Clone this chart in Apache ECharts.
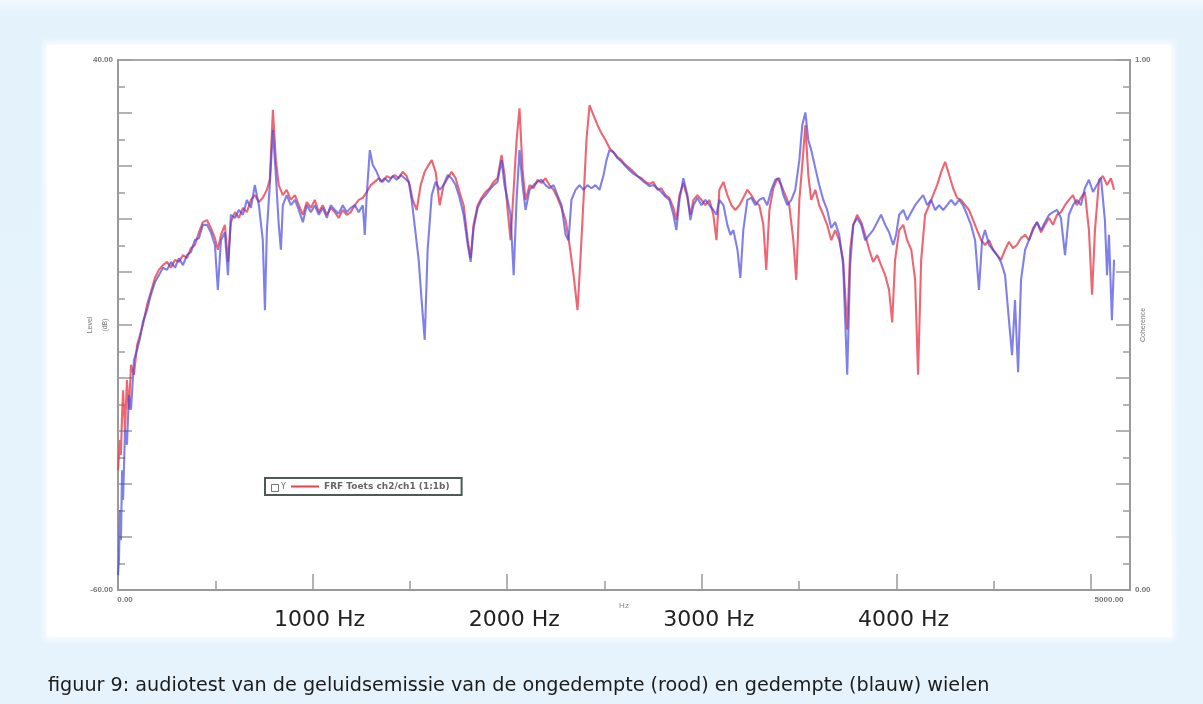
<!DOCTYPE html>
<html><head><meta charset="utf-8">
<script src="https://cdn.jsdelivr.net/npm/echarts@6/dist/echarts.min.js"></script>
<style>
html,body{margin:0;padding:0;background:#e5f2fc;}
#wrap{position:relative;width:1203px;height:704px;background:linear-gradient(#f3f9fe 0px,#e4f2fc 14px,#e6f3fc 100%);overflow:hidden;}
#panel{position:absolute;left:47px;top:45px;width:1124px;height:592px;background:#fff;box-shadow:0 0 6px 3px #fbfdff;}
#chart{position:absolute;left:0;top:0;width:1203px;height:704px;}
</style></head>
<body><div id="wrap"><div id="panel"></div><div id="chart"></div></div>
<script>
// ongedempt (rood)
const redHz=[0,10,15,20,26,36,46,56,67,82,98,113,128,149,169,190,210,231,252,272,293,313,334,354,375,395,416,436,457,477,498,513,529,549,565,580,601,621,642,662,683,703,724,744,765,780,796,811,826,847,867,888,909,929,950,970,991,1011,1032,1052,1073,1093,1114,1134,1155,1175,1196,1217,1237,1258,1278,1299,1319,1340,1360,1381,1401,1422,1442,1463,1483,1499,1514,1535,1555,1576,1596,1612,1632,1653,1673,1694,1714,1735,1755,1776,1797,1812,1827,1848,1868,1889,1909,1930,1950,1971,1986,2002,2017,2033,2048,2063,2079,2094,2115,2135,2156,2176,2197,2217,2238,2258,2279,2300,2320,2341,2361,2376,2392,2407,2423,2443,2464,2484,2505,2525,2546,2566,2587,2607,2628,2649,2669,2690,2710,2731,2751,2772,2792,2813,2833,2854,2869,2885,2905,2926,2941,2957,2977,2998,3018,3039,3059,3075,3090,3111,3131,3152,3172,3193,3213,3234,3254,3275,3295,3316,3331,3347,3367,3388,3408,3429,3449,3470,3485,3501,3516,3532,3547,3562,3583,3603,3624,3644,3665,3685,3706,3726,3747,3762,3778,3798,3819,3839,3860,3880,3901,3921,3942,3962,3978,3993,4014,4035,4055,4076,4096,4111,4127,4147,4168,4188,4209,4230,4250,4271,4291,4312,4332,4353,4373,4394,4414,4435,4455,4476,4496,4517,4537,4558,4578,4599,4619,4640,4661,4681,4702,4722,4743,4763,4784,4804,4825,4845,4866,4886,4907,4927,4948,4968,4989,5005,5020,5041,5061,5082,5102,5118];
const redDb=[-37.4,-31.7,-34.5,-27.9,-22.3,-29.8,-20.4,-26.0,-17.5,-19.4,-13.8,-11.9,-10.0,-6.2,-3.8,-1.1,0.4,1.3,1.9,0.8,2.3,1.9,3.2,2.6,4.5,5.1,7.5,9.4,9.8,8.3,6.4,4.2,7.0,8.9,1.9,9.4,11.3,10.2,12.1,11.3,13.6,14.5,13.2,14.0,15.5,17.4,30.6,21.1,16.4,14.5,15.5,13.6,14.5,12.6,10.8,13.2,12.1,13.6,11.3,12.6,10.8,12.1,11.3,10.2,11.7,10.8,11.3,12.6,13.6,14.0,15.1,16.4,17.0,17.7,17.0,18.1,17.7,18.3,17.7,18.9,18.1,16.4,13.6,11.7,16.4,18.9,20.2,21.1,18.9,12.6,16.4,17.7,18.9,17.7,15.1,12.6,6.0,2.6,8.9,12.6,14.0,15.1,15.8,17.0,17.7,22.1,18.3,11.7,6.0,15.5,24.9,30.9,19.2,13.6,16.4,15.8,17.4,16.8,17.7,16.4,15.5,14.0,12.1,9.8,5.1,-0.6,-7.2,2.3,13.6,24.9,31.5,29.6,27.7,26.2,24.9,23.4,22.6,21.7,21.1,20.2,19.6,18.9,18.1,17.7,17.0,16.6,17.0,15.5,15.8,14.5,14.0,12.1,9.8,14.5,16.8,14.0,10.8,13.6,14.5,13.6,12.6,13.6,10.8,6.0,15.5,17.0,14.5,12.6,11.7,12.6,14.0,15.5,14.5,13.2,12.6,8.9,0.4,11.7,15.8,17.7,16.4,14.5,12.6,6.0,-1.5,13.6,20.2,27.7,18.3,13.6,15.5,12.6,10.8,8.9,6.0,7.9,6.0,2.3,-10.9,4.2,8.9,10.8,9.4,7.0,4.2,1.9,3.2,1.3,-0.6,-3.4,-9.5,2.3,7.9,8.9,6.0,4.2,-1.5,-19.4,2.3,10.8,12.6,14.5,16.4,18.9,20.8,18.3,15.8,14.0,13.6,12.6,11.7,9.8,7.9,6.0,5.1,6.0,4.2,3.2,2.3,4.2,5.7,4.5,5.1,6.4,7.0,6.0,8.3,9.4,7.5,8.9,10.2,8.9,10.8,11.3,12.6,13.6,14.5,12.6,14.0,15.1,7.9,-4.3,7.9,17.4,18.1,16.4,17.7,15.5];
// gedempt (blauw)
const blueHz=[0,5,10,15,21,26,36,46,56,67,82,98,113,128,149,169,190,210,231,252,272,293,313,334,354,375,395,416,436,457,477,498,513,529,549,565,580,601,621,642,662,683,703,724,744,755,765,780,796,811,826,837,847,867,888,909,929,950,970,991,1011,1032,1052,1073,1093,1114,1134,1155,1175,1196,1217,1237,1258,1268,1278,1294,1309,1329,1350,1370,1391,1411,1432,1453,1473,1494,1509,1524,1545,1560,1576,1591,1612,1632,1653,1673,1694,1714,1735,1755,1776,1797,1812,1827,1848,1868,1889,1909,1930,1950,1971,1986,2002,2017,2033,2048,2063,2079,2094,2115,2135,2156,2176,2197,2217,2238,2258,2279,2300,2315,2330,2351,2371,2392,2412,2433,2453,2474,2495,2510,2525,2546,2566,2587,2607,2628,2649,2669,2690,2710,2731,2751,2772,2792,2813,2833,2854,2869,2885,2905,2926,2941,2957,2977,2998,3018,3039,3059,3075,3090,3111,3131,3147,3162,3183,3198,3213,3234,3254,3275,3295,3316,3336,3357,3377,3398,3419,3439,3460,3480,3501,3516,3532,3547,3562,3583,3603,3624,3644,3665,3685,3706,3726,3747,3762,3778,3798,3819,3839,3860,3880,3901,3921,3942,3962,3983,3998,4014,4035,4055,4076,4096,4117,4137,4158,4178,4199,4219,4240,4260,4281,4301,4322,4342,4363,4383,4404,4424,4440,4455,4476,4496,4517,4537,4558,4578,4594,4609,4625,4640,4661,4681,4702,4722,4743,4763,4784,4804,4825,4845,4866,4886,4907,4927,4948,4968,4989,5010,5030,5051,5071,5082,5092,5107,5118];
const blueDb=[-57.2,-54.3,-44.9,-50.6,-37.4,-43.0,-29.8,-32.6,-23.2,-26.0,-16.6,-14.7,-12.5,-9.4,-7.2,-4.3,-1.9,-0.6,0.8,0.4,1.9,0.8,2.6,1.3,3.2,3.8,6.0,6.4,8.9,8.9,7.5,5.1,-3.4,6.0,7.5,-0.6,10.8,10.2,11.7,10.8,13.6,12.1,16.4,12.6,6.0,-7.2,7.9,16.4,26.8,18.3,8.9,4.2,12.6,14.5,12.6,13.6,11.7,9.4,12.6,11.3,12.6,10.8,12.1,10.2,12.6,11.7,11.0,12.6,11.3,12.1,12.6,11.3,12.6,7.0,14.5,23.0,20.2,18.9,17.0,17.7,17.0,18.1,17.4,18.3,17.7,17.0,13.6,8.9,2.3,-5.3,-12.8,4.2,14.5,17.0,15.5,16.4,18.3,17.7,16.4,14.0,10.8,5.1,1.9,8.3,12.1,13.6,14.5,15.5,16.4,17.0,21.1,16.4,13.6,10.8,-0.6,13.6,23.0,16.4,11.7,15.5,16.4,17.0,17.4,16.4,15.8,16.4,14.5,12.6,7.0,6.0,13.6,15.5,16.4,15.5,16.4,15.8,16.4,15.5,18.3,21.1,23.0,22.6,21.5,20.8,20.0,19.2,18.5,18.1,17.4,16.8,16.2,16.4,15.8,15.1,14.2,13.6,10.8,7.9,13.6,17.7,14.5,9.8,12.6,14.0,12.6,13.6,12.6,11.7,10.8,13.6,12.6,8.9,7.0,7.9,4.2,-1.1,7.9,13.6,14.0,12.6,13.6,14.0,12.6,15.5,17.4,17.7,14.5,12.6,13.6,15.5,21.1,27.7,30.1,24.9,23.0,19.6,16.4,13.6,11.7,8.3,9.4,7.0,1.3,-19.4,1.3,8.9,10.2,8.9,6.0,7.0,7.9,9.4,10.8,8.9,7.5,5.1,7.0,10.8,11.7,9.8,11.3,12.6,13.6,14.5,12.6,13.6,11.7,12.6,11.7,12.6,13.6,12.6,13.6,12.6,10.8,8.9,6.0,-3.4,6.0,7.9,5.1,4.2,3.2,1.9,-0.6,-9.1,-15.7,-5.3,-18.9,-1.5,4.2,6.0,7.9,9.4,7.9,9.4,10.8,11.3,11.7,10.2,3.2,10.8,12.6,13.6,12.6,15.8,17.4,15.1,16.4,17.7,9.8,-0.6,7.0,-9.1,2.3];
// tick labels
const xLabelValues=[0,1000,2000,3000,4000,5000];
const xLabelTexts=['0.00','1000 Hz','2000 Hz','3000 Hz','4000 Hz','5000.00'];
const yLeftLabelValues=[-60,40];
const yLeftLabelTexts=['-60.00','40.00'];
const yRightLabelValues=[0,1];
const yRightLabelTexts=['0.00','1.00'];
const caption='figuur 9: audiotest van de geluidsemissie van de ongedempte (rood) en gedempte (blauw) wielen';
const redName='FRF Toets ch2/ch1 (1:1b)';
const blueName='FRF Toets gedempt';

function pairs(xs,ys){return xs.map((x,i)=>[x,ys[i]]);}
function lookup(vals,texts,v){const i=vals.findIndex(a=>Math.abs(a-v)<1e-6);return i<0?'':texts[i];}

const chart=echarts.init(document.getElementById('chart'),null,{renderer:'canvas'});
const axisGrey='#9a9a9a';
chart.setOption({
  backgroundColor:'transparent',
  animation:false,
  title:{text:caption,left:43,top:672,textStyle:{fontFamily:'DejaVu Sans',fontSize:19.2,fontWeight:'normal',color:'#1c1c1c'}},
  grid:{left:118,right:73,top:60,bottom:114,show:true,borderColor:'#a8a8a8',borderWidth:2,backgroundColor:'transparent'},
  legend:{data:[redName],left:265,top:478,orient:'horizontal',backgroundColor:'#fff',borderColor:'#4d5a55',borderWidth:2,borderRadius:0,
    padding:[4,12,4,26],itemWidth:28,itemHeight:2,icon:'rect',itemGap:6,
    textStyle:{fontSize:9,color:'#666',fontWeight:'bold',fontFamily:'DejaVu Sans'}},
  graphic:[
    {type:'rect',left:271,top:484,shape:{width:7,height:7},style:{fill:'#fff',stroke:'#777',lineWidth:1},z:100},
    {type:'text',left:281,top:483,style:{text:'Y',fontSize:8,fill:'#777',fontFamily:'DejaVu Sans'},z:100}
  ],
  xAxis:{type:'value',min:0,max:5200,interval:1000,name:'Hz',nameLocation:'middle',nameGap:12,nameMoveOverlap:false,
    nameTextStyle:{fontSize:8,color:'#888'},
    axisLine:{show:true,onZero:false,lineStyle:{color:axisGrey,width:2}},
    axisTick:{show:true,inside:true,length:16,lineStyle:{color:axisGrey,width:1.5}},
    minorTick:{show:true,splitNumber:2,length:9,lineStyle:{color:axisGrey,width:1.5}},
    splitLine:{show:false},
    axisLabel:{margin:6,showMinLabel:true,showMaxLabel:false,
      formatter:v=>{const t=lookup(xLabelValues,xLabelTexts,v);if(!t)return '';if(v===0)return '{s0|'+t+'}';if(v===5000)return '{s5|'+t+'}';return '{b|'+t+'}';},
      rich:{s0:{fontSize:8,color:'#777',fontWeight:'bold',padding:[0,0,0,14]},
            s5:{fontSize:8,color:'#777',fontWeight:'bold',padding:[0,0,0,36]},
            b:{fontSize:22,color:'#222',fontFamily:'DejaVu Sans',padding:[13,0,0,14]}}}},
  yAxis:[
    {type:'value',min:-60,max:40,interval:10,position:'left',name:'Level\n(dB)',nameLocation:'middle',nameRotate:90,nameGap:5,nameMoveOverlap:false,
      nameTextStyle:{fontSize:7,color:'#777',lineHeight:15},
      axisLine:{show:true,lineStyle:{color:axisGrey,width:2}},
      axisTick:{show:true,inside:true,length:14,lineStyle:{color:axisGrey,width:1.5}},
      minorTick:{show:true,splitNumber:2,length:7,lineStyle:{color:axisGrey,width:1.5}},
      splitLine:{show:false},
      axisLabel:{margin:5,fontSize:8,color:'#777',fontWeight:'bold',formatter:v=>lookup(yLeftLabelValues,yLeftLabelTexts,v)}},
    {type:'value',min:0,max:1,interval:0.1,position:'right',name:'Coherence',nameLocation:'middle',nameRotate:90,nameGap:10,nameMoveOverlap:false,
      nameTextStyle:{fontSize:7,color:'#777'},
      axisLine:{show:true,lineStyle:{color:axisGrey,width:2}},
      axisTick:{show:true,inside:true,length:14,lineStyle:{color:axisGrey,width:1.5}},
      minorTick:{show:true,splitNumber:2,length:7,lineStyle:{color:axisGrey,width:1.5}},
      splitLine:{show:false},
      axisLabel:{margin:5,fontSize:8,color:'#777',fontWeight:'bold',formatter:v=>lookup(yRightLabelValues,yRightLabelTexts,v)}}
  ],
  series:[
    {name:redName,type:'line',yAxisIndex:0,data:pairs(redHz,redDb),showSymbol:false,symbol:'none',
      lineStyle:{color:'#e8404f',width:2.1,opacity:0.8},itemStyle:{color:'#e8404f'},z:2},
    {name:blueName,type:'line',yAxisIndex:0,data:pairs(blueHz,blueDb),showSymbol:false,symbol:'none',
      lineStyle:{color:'#4444e0',width:2.1,opacity:0.68},itemStyle:{color:'#4444e0'},z:3}
  ]
});
</script></body></html>
